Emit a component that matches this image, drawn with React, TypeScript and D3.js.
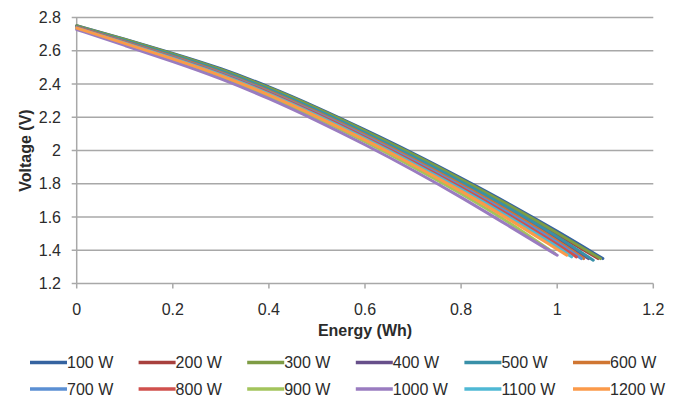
import React from "react";
import { scaleLinear, line, curveBasis } from "d3";

// series labels and colours (Excel 2007 style, first row darker)
const seriesNames = ["100 W", "200 W", "300 W", "400 W", "500 W", "600 W",
  "700 W", "800 W", "900 W", "1000 W", "1100 W", "1200 W"];
const seriesColors = ["#3563a0", "#a8403d", "#7e9c44", "#674f8a", "#3990a8", "#d07632",
  "#5b8fd3", "#d0504d", "#a3c45c", "#9a7cc0", "#4fb8d4", "#fb9a4a"];

// energy (Wh) sample points shared by all series, last point is each series' own end
const energyPts = [0, 0.1, 0.2, 0.3, 0.4, 0.5, 0.6, 0.7, 0.8, 0.9, 1.0];
const endEnergy = [1.095, 1.085, 1.09, 1.065, 1.075, 1.055, 1.05, 1.04, 0.995, 1.0, 1.03, 1.02];
const endVoltage = [1.35, 1.35, 1.35, 1.35, 1.34, 1.35, 1.35, 1.36, 1.38, 1.37, 1.36, 1.37];

// voltage (V) at energyPts
const v100 = [2.75, 2.67, 2.585, 2.495, 2.385, 2.26, 2.125, 1.985, 1.835, 1.68, 1.515];
const v200 = [2.745, 2.663, 2.578, 2.486, 2.375, 2.25, 2.114, 1.972, 1.82, 1.663, 1.495];
const v300 = [2.75, 2.668, 2.582, 2.49, 2.38, 2.255, 2.12, 1.978, 1.828, 1.672, 1.505];
const v400 = [2.742, 2.657, 2.57, 2.477, 2.365, 2.238, 2.101, 1.957, 1.804, 1.645, 1.473];
const v500 = [2.745, 2.66, 2.574, 2.482, 2.37, 2.244, 2.108, 1.965, 1.813, 1.655, 1.485];
const v600 = [2.742, 2.655, 2.567, 2.473, 2.36, 2.232, 2.095, 1.95, 1.796, 1.635, 1.46];
const v700 = [2.74, 2.652, 2.563, 2.468, 2.354, 2.226, 2.088, 1.942, 1.787, 1.624, 1.448];
const v800 = [2.74, 2.65, 2.56, 2.464, 2.349, 2.22, 2.081, 1.934, 1.778, 1.613, 1.435];
const v900 = [2.733, 2.64, 2.546, 2.446, 2.328, 2.196, 2.054, 1.903, 1.742, 1.57];
const v1000 = [2.728, 2.632, 2.536, 2.434, 2.314, 2.18, 2.036, 1.883, 1.72, 1.545];
const v1100 = [2.738, 2.647, 2.556, 2.459, 2.343, 2.213, 2.073, 1.925, 1.768, 1.601, 1.422];
const v1200 = [2.736, 2.644, 2.552, 2.454, 2.337, 2.206, 2.065, 1.916, 1.757, 1.588, 1.405];

const seriesValues = [v100, v200, v300, v400, v500, v600, v700, v800, v900, v1000, v1100, v1200];

const xTicks = [0, 0.2, 0.4, 0.6, 0.8, 1, 1.2];
const yTicks = [1.2, 1.4, 1.6, 1.8, 2, 2.2, 2.4, 2.6, 2.8];

const font = "'Liberation Sans', Arial, sans-serif";
const textColor = "#2b2b2b";
const gridColor = "#a8a8a8";

export default function App() {
  const width = 682;
  const height = 400;
  const margin = { left: 76.7, right: 28.7, top: 17.5, bottom: 116.5 };

  const x = scaleLinear().domain([0, 1.2]).range([margin.left, width - margin.right]);
  const y = scaleLinear().domain([1.2, 2.8]).range([height - margin.bottom, margin.top]);

  const lineGen = line<[number, number]>()
    .x((d) => x(d[0]))
    .y((d) => y(d[1]))
    .curve(curveBasis);

  const series = seriesValues.map((vals, i) => {
    const pts: [number, number][] = vals.map((v, j) => [energyPts[j], v]);
    pts.push([endEnergy[i], endVoltage[i]]);
    return { name: seriesNames[i], color: seriesColors[i], pts };
  });

  const legendX0 = 30;
  const legendStep = 108.6;
  const legendRows = [362.5, 389];

  return (
    <svg
      width={width}
      height={height}
      style={{ position: "absolute", left: 0, top: 0, background: "#fff" }}
      fontFamily={font}
    >
      {/* gridlines */}
      {yTicks.slice(1).map((t) => (
        <line key={"g" + t} x1={x(0) - 5} x2={x(1.2)} y1={y(t)} y2={y(t)}
          stroke={gridColor} strokeWidth={1.5} />
      ))}
      {/* y axis */}
      <line x1={x(0)} x2={x(0)} y1={y(2.8)} y2={y(1.2)} stroke={gridColor} strokeWidth={1.5} />
      <line x1={x(0) - 5} x2={x(0)} y1={y(1.2)} y2={y(1.2)} stroke={gridColor} strokeWidth={1.5} />
      {yTicks.map((t) => (
        <text key={"yl" + t} x={61} y={y(t) + 5.7} textAnchor="end" fontSize={16} fill={textColor}>
          {String(t)}
        </text>
      ))}
      {/* x axis */}
      <line x1={x(0)} x2={x(1.2)} y1={y(1.2)} y2={y(1.2)} stroke={gridColor} strokeWidth={1.5} />
      {xTicks.map((t) => (
        <g key={"xt" + t}>
          <line x1={x(t)} x2={x(t)} y1={y(1.2)} y2={y(1.2) + 5} stroke={gridColor} strokeWidth={1.5} />
          <text x={x(t)} y={315} textAnchor="middle" fontSize={16} fill={textColor}>
            {String(t)}
          </text>
        </g>
      ))}

      {/* series */}
      {series.map((s) => (
        <path key={s.name} d={lineGen(s.pts) || ""} fill="none" stroke={s.color}
          strokeWidth={3} strokeLinecap="round" strokeLinejoin="round" />
      ))}

      {/* axis titles */}
      <text x={(x(0) + x(1.2)) / 2} y={336} textAnchor="middle" fontSize={16}
        fontWeight="bold" fill={textColor}>Energy (Wh)</text>
      <text transform={`translate(30.5,${(y(2.8) + y(1.2)) / 2}) rotate(-90)`}
        textAnchor="middle" fontSize={16} fontWeight="bold" fill={textColor}>Voltage (V)</text>

      {/* legend */}
      {series.map((s, i) => {
        const col = i % 6;
        const row = Math.floor(i / 6);
        const lx = legendX0 + col * legendStep;
        const ly = legendRows[row];
        return (
          <g key={"lg" + s.name}>
            <line x1={lx} x2={lx + 37} y1={ly} y2={ly} stroke={s.color} strokeWidth={3.5} />
            <text x={lx + 37} y={ly + 5.8} fontSize={16} fill={textColor}>{s.name}</text>
          </g>
        );
      })}
    </svg>
  );
}
